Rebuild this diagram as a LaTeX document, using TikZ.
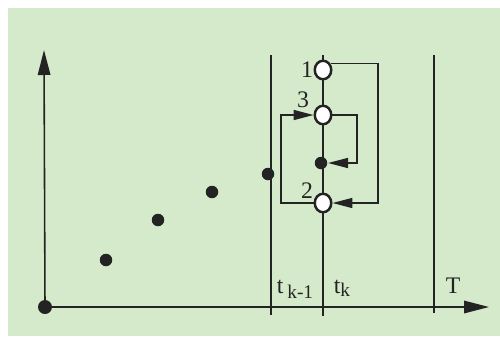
\documentclass[tikz,border=0pt]{standalone}
\usepackage{fontspec}
\setmainfont{Liberation Serif}
\usetikzlibrary{arrows.meta,shapes.geometric}
\definecolor{bg}{RGB}{212,234,202}
\definecolor{ink}{RGB}{35,35,35}
\begin{document}
\begin{tikzpicture}[x=0.02cm,y=-0.02cm, line width=0.9pt, draw=ink,
  dot/.style={circle,fill=ink,inner sep=0,minimum size=0.25cm},
  bigdot/.style={circle,fill=ink,inner sep=0,minimum size=0.28cm},
  ocirc/.style={ellipse,draw=ink,line width=1.4pt,fill=white,inner sep=0,minimum width=0.33cm,minimum height=0.37cm},
  lab/.style={font=\fontsize{13.5}{15}\selectfont, text=ink, inner sep=0},
  ar/.style={-{Triangle[length=0.4cm,width=0.2cm]}},
  axis/.style={-{Triangle[length=0.5cm,width=0.25cm]}}]
\useasboundingbox (0,0) rectangle (500,336);
\fill[white] (0,0) rectangle (500,336);
\fill[bg] (8,8) rectangle (500,336);

% axes
\node[bigdot] (o) at (45,307) {};
\coordinate (ytip) at (44,50);
\coordinate (xtip) at (489,307);
\draw[axis] (o.center) -- (ytip);
\draw[axis] (o.center) -- (xtip);

% vertical time lines
\coordinate (a1) at (271,55); \coordinate (a2) at (271,315);
\coordinate (b1) at (323,55); \coordinate (b2) at (323,316);
\coordinate (c1t) at (434,55); \coordinate (c2t) at (434,313);
\draw (a1) -- (a2);
\draw (b1) -- (b2);
\draw (c1t) -- (c2t);

% data dots
\node[dot] (d1) at (106,260) {};
\node[dot] (d2) at (158,220) {};
\node[dot] (d3) at (212,192) {};
\node[dot] (d4) at (268,174) {};

% circles on t_k
\node[ocirc] (n1) at (323,70) {};
\node[ocirc] (n3) at (323,115) {};
\node[dot] (nd) at (321,163) {};
\node[ocirc] (n2) at (323,203) {};

% labels
\node[lab] (l1) at (307,70) {1};
\node[lab] (l3) at (303,100) {3};
\node[lab] (l2) at (307,191) {2};
\node[lab, anchor=base west] (ltk1) at (276,293) {t\,\raisebox{-3pt}{\fontsize{11}{13}\selectfont k-1}};
\node[lab, anchor=base west] (ltk) at (333,293) {t\raisebox{-2pt}{\fontsize{11}{13}\selectfont k}};
\node[lab, anchor=base west] (lT) at (445,293) {T};

% connectors
\coordinate (r1) at (378,0);
\coordinate (r3) at (357,0);
\coordinate (l3c) at (281,0);
\draw[ar] (n1.40) -- (n1.40 -| r1) -- (n2.east -| r1) -- (n2.east);
\draw[ar] (n3.east) -- (n3.east -| r3) -- (nd.east -| r3) -- (nd.east);
\draw[ar] (n2.west) -- (n2.west -| l3c) -- (n3.west -| l3c) -- (n3.west);
\end{tikzpicture}
\end{document}
